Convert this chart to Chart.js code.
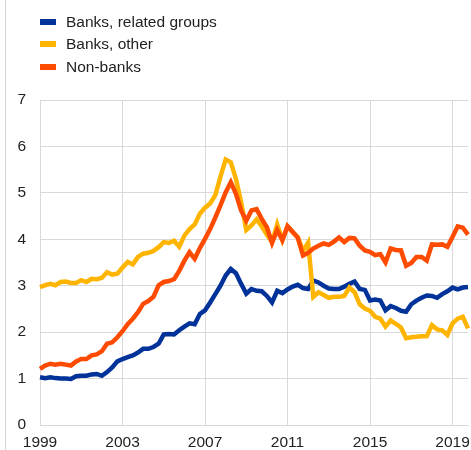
<!DOCTYPE html>
<html>
<head>
<meta charset="utf-8">
<script src="https://cdn.jsdelivr.net/npm/chart.js@4.4.1/dist/chart.umd.min.js"></script>
<style>
  html, body { margin: 0; padding: 0; background: #fff; }
  #wrap { position: relative; width: 471px; height: 450px; overflow: hidden; }
  #frame { position: absolute; left: 5px; top: 0; bottom: 0; border-left: 1px solid #d4d4d4; }
  #chart { position: absolute; left: 0; top: 0; }
  #legend { position: absolute; left: 40px; top: 11px; font-family: "Liberation Sans", Arial, sans-serif; font-size: 15.5px; color: #222; }
  .item { display: flex; align-items: center; height: 22.3px; }
  .swatch { width: 16px; height: 6px; margin-right: 10px; }
</style>
</head>
<body>
<div id="wrap">
  <div id="frame"></div>
  <canvas id="chart" width="471" height="450"></canvas>
  <div id="legend"></div>
</div>
<script>
// quarterly, 1999 Q1 - 2019 Q4
const quarters = [];
for (let y = 1999; y <= 2019; y++) {
  for (let q = 1; q <= 4; q++) quarters.push(y + 'Q' + q);
}
const yearTicks = ['1999', '2003', '2007', '2011', '2015', '2019'];

const banksRelated = [
  1.03, 1.01, 1.03, 1.01, 1.00, 1.00, 0.99, 1.05, 1.06, 1.06, 1.09, 1.10,
  1.06, 1.14, 1.24, 1.37, 1.42, 1.46, 1.50, 1.56, 1.64, 1.64, 1.68, 1.75,
  1.95, 1.96, 1.95, 2.04, 2.12, 2.19, 2.17, 2.39, 2.47, 2.64, 2.82, 3.00,
  3.22, 3.36, 3.27, 3.04, 2.83, 2.93, 2.89, 2.88, 2.78, 2.64, 2.89, 2.84,
  2.92, 2.98, 3.02, 2.95, 2.93, 3.11, 3.07, 3.00, 2.94, 2.93, 2.93, 2.98,
  3.04, 3.09, 2.93, 2.91, 2.68, 2.70, 2.68, 2.47, 2.56, 2.52, 2.46, 2.44,
  2.60, 2.68, 2.74, 2.79, 2.78, 2.74, 2.82, 2.88, 2.96, 2.92, 2.96, 2.97
];
const banksOther = [
  2.97, 3.01, 3.04, 3.01, 3.08, 3.09, 3.06, 3.06, 3.12, 3.08, 3.15, 3.14,
  3.17, 3.29, 3.24, 3.26, 3.39, 3.51, 3.46, 3.62, 3.69, 3.71, 3.75, 3.83,
  3.94, 3.92, 3.97, 3.84, 4.08, 4.22, 4.32, 4.55, 4.68, 4.77, 4.95, 5.35,
  5.72, 5.66, 5.30, 4.80, 4.20, 4.30, 4.43, 4.28, 4.10, 3.94, 4.32, 3.98,
  4.28, 4.15, 4.05, 3.75, 3.93, 2.76, 2.86, 2.80, 2.74, 2.76, 2.76, 2.78,
  2.96, 2.86, 2.60, 2.51, 2.46, 2.33, 2.29, 2.12, 2.25, 2.18, 2.10, 1.87,
  1.89, 1.90, 1.91, 1.91, 2.15, 2.06, 2.04, 1.94, 2.19, 2.29, 2.33, 2.08
];
const nonBanks = [
  1.21, 1.28, 1.32, 1.30, 1.32, 1.30, 1.28, 1.37, 1.42, 1.42, 1.50, 1.52,
  1.59, 1.75, 1.78, 1.89, 2.02, 2.17, 2.29, 2.43, 2.61, 2.67, 2.76, 3.01,
  3.08, 3.10, 3.14, 3.32, 3.54, 3.72, 3.58, 3.81, 4.01, 4.22, 4.47, 4.73,
  5.01, 5.23, 4.98, 4.62, 4.40, 4.62, 4.65, 4.44, 4.26, 3.92, 4.20, 3.98,
  4.28, 4.16, 4.03, 3.65, 3.71, 3.80, 3.86, 3.91, 3.88, 3.95, 4.04, 3.94,
  4.03, 4.02, 3.86, 3.76, 3.73, 3.66, 3.68, 3.50, 3.80, 3.77, 3.76, 3.43,
  3.49, 3.62, 3.62, 3.54, 3.89, 3.88, 3.89, 3.84, 4.05, 4.28, 4.25, 4.10
];

const series = [
  { label: 'Banks, related groups', data: banksRelated, color: '#003299', order: 2 },
  { label: 'Banks, other', data: banksOther, color: '#ffb400', order: 1 },
  { label: 'Non-banks', data: nonBanks, color: '#ff4b00', order: 0 },
];

const FONT = '"Liberation Sans", Arial, sans-serif';
const GRID = '#d9d9d9';

function yearOf(label) {
  const year = label.slice(0, 4);
  return label.endsWith('Q1') && yearTicks.includes(year) ? year : '';
}

// html legend, stacked like the original
const legend = document.getElementById('legend');
series.forEach((s) => {
  const row = document.createElement('div');
  row.className = 'item';
  row.innerHTML = `<span class="swatch" style="background:${s.color}"></span><span>${s.label}</span>`;
  legend.appendChild(row);
});

new Chart(document.getElementById('chart'), {
  type: 'line',
  data: {
    labels: quarters,
    datasets: series.map((s) => ({
      label: s.label,
      data: s.data,
      borderColor: s.color,
      backgroundColor: s.color,
      borderWidth: 4.5,
      pointRadius: 0,
      tension: 0,
      order: s.order,
    })),
  },
  options: {
    responsive: false,
    animation: false,
    layout: { padding: { top: 100, right: 3, left: 0, bottom: 0 } },
    plugins: {
      legend: { display: false },
      tooltip: { enabled: false },
    },
    scales: {
      x: {
        offset: false,
        border: { color: GRID },
        grid: {
          drawTicks: false,
          color: (ctx) => (ctx.tick && yearOf(quarters[ctx.index]) ? GRID : 'transparent'),
        },
        ticks: {
          autoSkip: false,
          maxRotation: 0,
          padding: 8,
          color: '#222',
          font: { family: FONT, size: 15.5 },
          callback(value) {
            return yearOf(this.getLabelForValue(value));
          },
        },
        afterFit(scale) {
          scale.height = 25;
          scale.paddingLeft = 0;
          scale.paddingRight = 0;
        },
      },
      y: {
        min: 0,
        max: 7,
        border: { color: GRID },
        grid: { drawTicks: false, color: GRID },
        ticks: {
          stepSize: 1,
          padding: 14,
          color: '#222',
          font: { family: FONT, size: 15.5 },
        },
        afterFit(scale) { scale.width = 40; },
      },
    },
  },
});
</script>
</body>
</html>
